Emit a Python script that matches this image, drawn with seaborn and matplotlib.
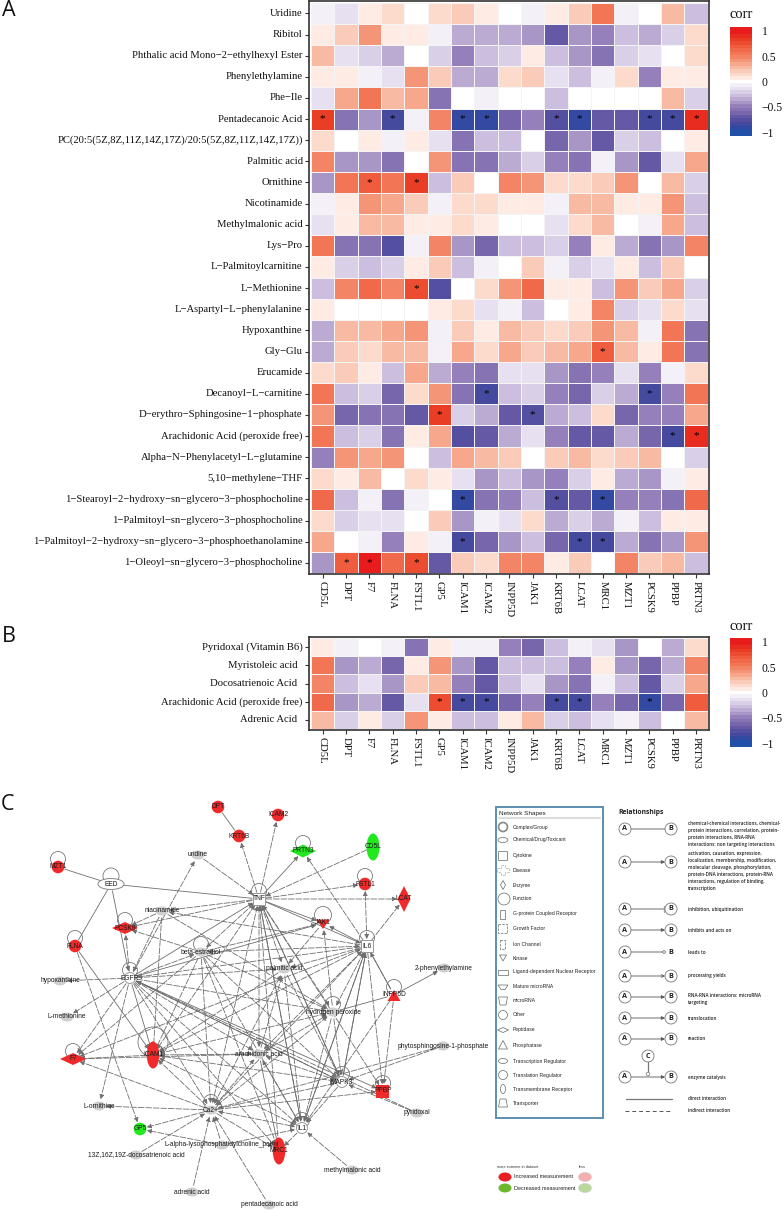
import numpy as np
import pandas as pd
import seaborn as sns
import matplotlib
matplotlib.use("Agg")
import matplotlib.pyplot as plt
from matplotlib.colors import LinearSegmentedColormap
from matplotlib.patches import Ellipse, Polygon, Rectangle, Circle, FancyArrowPatch

sns.set_theme(style="white")
plt.rcParams["font.family"] = ["Liberation Serif", "DejaVu Sans"]

# ---------------- data -----------------
genes = ["CD5L", "DPT", "F7", "FLNA", "FSTL1", "GP5", "ICAM1", "ICAM2", "INPP5D", "JAK1",
         "KRT6B", "LCAT", "MRC1", "MZT1", "PCSK9", "PPBP", "PRTN3"]
metabolites_a = ["Uridine", "Ribitol", "Phthalic acid Mono−2−ethylhexyl Ester", "Phenylethylamine", "Phe−Ile",
                 "Pentadecanoic Acid", "PC(20:5(5Z,8Z,11Z,14Z,17Z)/20:5(5Z,8Z,11Z,14Z,17Z))", "Palmitic acid",
                 "Ornithine", "Nicotinamide", "Methylmalonic acid", "Lys−Pro", "L−Palmitoylcarnitine", "L−Methionine",
                 "L−Aspartyl−L−phenylalanine", "Hypoxanthine", "Gly−Glu", "Erucamide", "Decanoyl−L−carnitine",
                 "D−erythro−Sphingosine−1−phosphate", "Arachidonic Acid (peroxide free)",
                 "Alpha−N−Phenylacetyl−L−glutamine", "5,10−methylene−THF",
                 "1−Stearoyl−2−hydroxy−sn−glycero−3−phosphocholine", "1−Palmitoyl−sn−glycero−3−phosphocholine",
                 "1−Palmitoyl−2−hydroxy−sn−glycero−3−phosphoethanolamine", "1−Oleoyl−sn−glycero−3−phosphocholine"]
corr_a = [
 [-0.04,-0.12,0.06,0.13,0,0.17,0.22,0.08,0,-0.07,0.05,0.22,0.55,-0.04,-0.02,0.3,-0.27],
 [0.06,0.2,0.38,0.05,0.06,-0.1,-0.33,-0.33,-0.37,-0.38,-0.68,-0.38,-0.47,-0.27,-0.33,-0.2,0.13],
 [0.3,-0.15,-0.2,-0.33,0.03,-0.18,-0.5,-0.25,-0.18,0.04,-0.3,-0.38,-0.55,-0.18,-0.15,-0.01,0.13],
 [0.08,0.04,-0.05,-0.15,0.38,0.2,-0.33,-0.33,0.12,0.22,-0.13,-0.3,-0.06,0.13,-0.5,0.07,0.07],
 [-0.12,0.32,0.55,0.25,0.35,-0.52,0.02,-0.1,0,-0.03,-0.25,0,0.01,-0.03,-0.03,0.25,-0.22],
 [0.85,-0.52,-0.38,-0.85,-0.07,0.45,-0.92,-0.9,-0.65,-0.48,-0.78,-0.9,-0.72,-0.68,-0.8,-0.82,0.92],
 [0.15,0.01,0.08,-0.07,0.05,-0.15,-0.58,-0.28,-0.3,-0.03,-0.6,-0.4,-0.68,-0.22,-0.3,0.03,0.06],
 [0.45,-0.4,-0.38,-0.55,0.03,0.4,-0.55,-0.58,-0.32,-0.2,-0.47,-0.52,-0.1,-0.38,-0.68,-0.15,0.33],
 [-0.38,0.55,0.7,0.55,0.8,-0.25,0.2,0.02,0.47,0.42,0.15,0.13,0.2,0.43,-0.03,0.27,-0.2],
 [-0.08,0.07,0.38,0.33,0.22,-0.07,0.16,0.12,0.08,0.1,-0.07,0.25,0.3,0.05,0.07,0.38,-0.3],
 [-0.15,0.07,0.3,0.3,0.1,0.07,0.12,0.08,0,0.01,-0.13,0.17,0.27,0.03,-0.07,0.33,-0.28],
 [0.55,-0.52,-0.58,-0.75,-0.06,0.45,-0.38,-0.62,-0.25,-0.25,-0.2,-0.45,0.05,-0.35,-0.55,-0.4,0.47],
 [0.1,-0.2,-0.3,-0.2,0.05,0.2,-0.28,-0.08,0,0.2,-0.1,-0.18,-0.12,0.04,-0.25,0.2,-0.01],
 [-0.25,0.45,0.65,0.45,0.78,-0.75,0.03,0.14,0.42,0.62,0.06,0.1,-0.25,0.38,0.2,0.35,-0.2],
 [0.05,-0.03,0.03,-0.02,0.03,0.1,0.14,-0.17,-0.1,-0.3,-0.03,0.05,0.5,-0.18,-0.15,0.12,-0.15],
 [-0.35,0.3,0.28,0.35,0.38,-0.06,0.22,0.1,0.27,0.2,0.12,0.18,0.42,0.27,-0.06,0.52,-0.52],
 [-0.35,0.22,0.15,0.28,0.28,-0.06,0.37,0.17,0.32,0.2,0.3,0.32,0.7,0.3,0.06,0.58,-0.58],
 [0.13,0.22,0.08,-0.25,0.35,-0.32,-0.5,-0.58,-0.12,-0.12,-0.42,-0.58,-0.48,-0.13,-0.5,-0.1,0.15],
 [0.55,-0.3,-0.22,-0.6,0.17,0.38,-0.58,-0.8,-0.25,-0.18,-0.45,-0.65,-0.2,-0.33,-0.8,-0.45,0.55],
 [0.38,-0.62,-0.57,-0.55,-0.72,0.8,-0.22,-0.33,-0.7,-0.78,-0.33,-0.27,0.13,-0.6,-0.5,-0.5,0.33],
 [0.55,-0.3,-0.2,-0.55,0.05,0.33,-0.73,-0.68,-0.33,-0.17,-0.5,-0.72,-0.7,-0.33,-0.6,-0.82,0.88],
 [-0.5,0.4,0.33,0.38,0,-0.3,0.37,0.27,0.18,-0.02,0.22,0.27,0.12,0.22,0.28,0.01,-0.22],
 [0.12,0.06,0.3,0,0.13,0.05,-0.12,-0.38,-0.3,-0.38,-0.45,-0.2,0.08,-0.33,-0.38,-0.04,0.04],
 [0.65,-0.3,-0.1,-0.52,-0.04,0.01,-0.88,-0.58,-0.5,-0.25,-0.78,-0.72,-0.92,-0.5,-0.5,-0.58,0.65],
 [0.17,-0.2,-0.13,-0.12,0,0.22,-0.42,-0.07,-0.12,0.15,-0.32,-0.22,-0.35,-0.07,-0.27,0.07,0.08],
 [0.35,0,-0.1,-0.48,0.1,-0.1,-0.85,-0.65,-0.38,-0.25,-0.65,-0.82,-0.85,-0.35,-0.55,-0.38,0.42],
 [-0.4,0.68,1.0,0.62,0.78,-0.7,0.2,0.15,0.45,0.5,0.1,0.22,-0.03,0.45,0.22,0.3,-0.25],
]
stars_a = {5: [0, 3, 6, 7, 10, 11, 14, 15, 16], 8: [2, 4], 13: [4], 16: [12], 18: [7, 14], 19: [5, 9],
           20: [15, 16], 23: [6, 10, 12], 25: [6, 11, 12], 26: [1, 2, 4]}

metabolites_b = ["Pyridoxal (Vitamin B6)", "Myristoleic acid  ", "Docosatrienoic Acid  ",
                 "Arachidonic Acid (peroxide free)", "Adrenic Acid  "]
corr_b = [
 [0.05,-0.08,-0.02,-0.07,-0.55,0.1,-0.04,-0.04,-0.48,-0.62,-0.27,-0.08,-0.17,-0.38,0,-0.35,0.15],
 [0.55,-0.42,-0.33,-0.65,0.06,0.38,-0.38,-0.72,-0.27,-0.25,-0.27,-0.45,0.05,-0.42,-0.6,-0.36,0.45],
 [0.47,-0.25,-0.14,-0.42,0.2,0.28,-0.5,-0.72,-0.25,-0.15,-0.42,-0.55,-0.1,-0.3,-0.72,-0.22,0.37],
 [0.6,-0.42,-0.35,-0.7,-0.17,0.75,-0.85,-0.82,-0.62,-0.45,-0.82,-0.85,-0.45,-0.6,-0.9,-0.65,0.68],
 [0.3,-0.2,0.1,-0.18,0.38,0.08,-0.3,-0.3,0.05,0.25,-0.22,-0.25,-0.14,-0.04,-0.27,-0.02,0.28],
]
stars_b = {3: [5, 6, 7, 10, 11, 14]}
cbar_ticks = [-1, -0.5, 0, 0.5, 1]

node_names = ["DPT","ICAM2","KRT6B","PRTN3","CD5L","uridine","MZT1","EED","TNF","FSTL1","LCAT","niacinamide",
              "PCSK9","JAK1","FLNA","IL6","beta-estradiol","palmitic acid","EGFR","hypoxanthine","2-phenylethylamine",
              "INPP5D","hydrogen peroxide","L-methionine","F7","ICAM1","arachidonic acid",
              "phytosphingosine-1-phosphate","MAPK3","PPBP","L-ornithine","Ca2+","pyridoxal","IL1","GP5",
              "L-alpha-lysophosphatidylcholine_palmi","MRC1","13Z,16Z,19Z-docosatrienoic acid","methylmalonic acid",
              "adrenic acid","pentadecanoic acid"]
node_x = [218,278,239,303,373,198,58,111,259,365,404,162,125,323,75,367,201,284,130,60,444,394,333,67,73,153,259,
          443,342,383,99,211,417,302,140,222,279,136,352,192,269]
node_y = [807,815,836,851,847,855,867,884,899,884,899,911,928,923,946,946,952,969,978,981,968,995,1012,1017,1059,
          1055,1054,1046,1082,1091,1106,1110,1113,1128,1129,1145,1151,1155,1170,1192,1205]
node_kind = ["rc","rc","rc","gd","ge","c","rc","w","ws","rc","rdt","c","rd","rv","rc","ws","c","c","wc","c","c",
             "ru","c","c","rd","re","c","c","wc","rs","c","c","c","wc","gc","c","re","c","c","c","c"]
self_loops = ["MZT1","EED","PRTN3","FSTL1","JAK1","PCSK9","FLNA","TNF","IL6","beta-estradiol","EGFR","INPP5D",
              "hydrogen peroxide","F7","ICAM1","MAPK3","PPBP","Ca2+","IL1","arachidonic acid"]
direct_edges = [("DPT","KRT6B",0),("MZT1","EED",0),("EED","FLNA",0),("TNF","EED",1),("EED","EGFR",1),("TNF","PRTN3",1),
                ("TNF","IL6",1),("IL6","JAK1",1),("TNF","JAK1",1),("FLNA","ICAM1",1),("EGFR","ICAM1",1),
                ("EGFR","PPBP",1),("EGFR","MAPK3",1),("INPP5D","2-phenylethylamine",1),("hydrogen peroxide","INPP5D",0),
                ("IL6","INPP5D",0),("IL6","MAPK3",0),("IL6","IL1",1),("TNF","IL1",1),("EGFR","JAK1",1),
                ("arachidonic acid","MRC1",1),("TNF","MAPK3",1),("EGFR","TNF",1)]
indirect_edges = [("TNF","ICAM2"),("TNF","KRT6B"),("CD5L","TNF"),("uridine","TNF"),("EGFR","uridine"),("TNF","FSTL1"),
 ("IL6","FSTL1"),("TNF","LCAT"),("IL6","LCAT"),("IL6","PRTN3"),("TNF","niacinamide"),("TNF","PCSK9"),("niacinamide","PCSK9"),
 ("TNF","beta-estradiol"),("TNF","palmitic acid"),("TNF","hydrogen peroxide"),("TNF","arachidonic acid"),("TNF","Ca2+"),
 ("TNF","ICAM1"),("TNF","MRC1"),("TNF","PPBP"),("IL6","niacinamide"),("IL6","beta-estradiol"),
 ("IL6","palmitic acid"),("IL6","EGFR"),("IL6","hydrogen peroxide"),("IL6","arachidonic acid"),("IL6","Ca2+"),("IL6","ICAM1"),
 ("IL6","PPBP"),("EGFR","hypoxanthine"),("EGFR","L-methionine"),("EGFR","F7"),("EGFR","L-ornithine"),("EGFR","hydrogen peroxide"),
 ("EGFR","arachidonic acid"),("EGFR","Ca2+"),("EGFR","MRC1"),("EGFR","IL1"),("EGFR","beta-estradiol"),("EGFR","palmitic acid"),
 ("EGFR","PCSK9"),("Ca2+","F7"),("Ca2+","GP5"),("Ca2+","ICAM1"),("Ca2+","arachidonic acid"),
 ("Ca2+","hydrogen peroxide"),("Ca2+","palmitic acid"),("Ca2+","MAPK3"),("Ca2+","PPBP"),("Ca2+","IL1"),
 ("Ca2+","L-ornithine"),("13Z,16Z,19Z-docosatrienoic acid","Ca2+"),("adrenic acid","Ca2+"),("pentadecanoic acid","Ca2+"),
 ("L-alpha-lysophosphatidylcholine_palmi","Ca2+"),("L-alpha-lysophosphatidylcholine_palmi","GP5"),
 ("L-alpha-lysophosphatidylcholine_palmi","IL1"),("arachidonic acid","ICAM1"),("arachidonic acid","MAPK3"),("arachidonic acid","IL1"),
 ("arachidonic acid","hydrogen peroxide"),("arachidonic acid","palmitic acid"),("arachidonic acid","F7"),
 ("beta-estradiol","ICAM1"),("beta-estradiol","Ca2+"),("beta-estradiol","IL1"),("beta-estradiol","MAPK3"),
 ("beta-estradiol","hydrogen peroxide"),("beta-estradiol","JAK1"),("beta-estradiol","MRC1"),("beta-estradiol","F7"),
 ("beta-estradiol","PCSK9"),("hydrogen peroxide","JAK1"),("hydrogen peroxide","ICAM1"),("hydrogen peroxide","MAPK3"),
 ("hydrogen peroxide","IL1"),("phytosphingosine-1-phosphate","MAPK3"),("pyridoxal","MAPK3"),("MAPK3","IL1"),
 ("methylmalonic acid","IL1"),("FLNA","GP5"),("niacinamide","ICAM1"),("niacinamide","EGFR"),("niacinamide","hydrogen peroxide"),
 ("ICAM1","F7"),("INPP5D","IL1"),("INPP5D","IL6"),("INPP5D","PPBP"),("palmitic acid","ICAM1"),("palmitic acid","MAPK3"),
 ("IL6","F7"),("JAK1","palmitic acid"),("MAPK3","ICAM1"),("FSTL1","IL6"),("ICAM1","MAPK3"),("ICAM1","IL1"),
 ("ICAM1","IL6"),("ICAM1","TNF"),("ICAM1","hydrogen peroxide"),("ICAM1","arachidonic acid"),
 ("Ca2+","TNF"),("arachidonic acid","TNF"),("arachidonic acid","IL6"),("MAPK3","TNF"),("MAPK3","IL6"),("MAPK3","EGFR"),
 ("MAPK3","arachidonic acid"),("IL1","TNF"),("IL1","IL6"),("IL1","Ca2+"),("IL1","arachidonic acid"),("IL1","ICAM1"),("IL1","MRC1"),
 ("hydrogen peroxide","Ca2+"),("hydrogen peroxide","arachidonic acid"),("hydrogen peroxide","TNF"),("hydrogen peroxide","IL6"),
 ("palmitic acid","Ca2+"),("palmitic acid","IL1"),("Ca2+","MRC1"),("phytosphingosine-1-phosphate","Ca2+"),("pyridoxal","EGFR"),
 ("beta-estradiol","TNF"),("beta-estradiol","IL6")]

shape_names = ["Complex/Group","Chemical/Drug/Toxicant","Cytokine","Disease","Enzyme","Function","G-protein Coupled Receptor",
               "Growth Factor","Ion Channel","Kinase","Ligand-dependent Nuclear Receptor","Mature microRNA","microRNA","Other",
               "Peptidase","Phosphatase","Transcription Regulator","Translation Regulator","Transmembrane Receptor","Transporter"]
rel_texts = ["chemical-chemical interactions, chemical-\nprotein interactions, correlation, protein-\nprotein interactions, RNA-RNA\ninteractions: non targeting interactions",
             "activation, causation, expression,\nlocalization, membership, modification,\nmolecular cleavage, phosphorylation,\nprotein-DNA interactions, protein-RNA\ninteractions, regulation of binding,\ntranscription",
             "inhibition, ubiquitination","inhibits and acts on","leads to","processing yields",
             "RNA-RNA interactions: microRNA\ntargeting","translocation","reaction","enzyme catalysis"]

# ---------------- figure helpers -----------------
W, H = 784, 1211
fig = plt.figure(figsize=(W/100, H/100), dpi=100, facecolor="white")
def px_axes(x0, y0, x1, y1):
    return fig.add_axes([x0/W, 1-y1/H, (x1-x0)/W, (y1-y0)/H])

pos = [-1.07,-1,-0.9,-0.75,-0.65,-0.5,-0.4,-0.3,-0.1,0,0.05,0.15,0.25,0.35,0.45,0.55,0.7,0.85,1,1.07]
cols = ["#2050a8","#2050a8","#3c479e","#5c52a3","#7565ab","#9580bb","#b09fcc","#c9bbdd","#efeaf5","#ffffff",
        "#fff0ea","#fcd9cb","#fac3b0","#f6a98e","#f58f72","#f2785a","#ef6040","#ea3e25","#e81c1c","#e81c1c"]
cmap = LinearSegmentedColormap.from_list("corr", [((p+1.07)/2.14, c) for p, c in zip(pos, cols)], N=31)

def heat(values, rows, stars, box, cbox, ylim, title_y):
    ax = px_axes(*box)
    cax = px_axes(*cbox)
    df = pd.DataFrame(values, index=rows, columns=genes)
    ann = df.copy().astype(object)
    ann.loc[:, :] = ""
    for r, cs in stars.items():
        for c in cs:
            ann.iloc[r, c] = "*"
    sns.heatmap(df, ax=ax, cbar_ax=cax, cmap=cmap, vmin=-1.07, vmax=1.07, linewidths=0.6, linecolor="#f4f4f4",
                annot=ann, fmt="", annot_kws={"fontsize": 8, "color": "black"}, square=False,
                cbar_kws={"ticks": cbar_ticks, "drawedges": False})
    ax.set_xlim(-0.07, 17.07)
    ax.set_ylim(*ylim)
    for s in ax.spines.values():
        s.set_visible(True); s.set_color("#333333"); s.set_linewidth(1.2)
    ax.tick_params(axis="both", length=2.8, width=0.8, color="#333333", bottom=True, left=True, pad=2)
    ax.set_xticklabels(genes, rotation=270, fontsize=7.7, color="#111111", va="top", ha="center")
    ax.set_yticklabels(rows, rotation=0, fontsize=7.65, color="#111111")
    ax.set_xlabel(""); ax.set_ylabel("")
    cax.tick_params(axis="y", direction="in", length=4, width=0.7, color="white", left=True, right=True,
                    labelsize=8.4, pad=7, labelcolor="#111111")
    cax.set_yticks(cbar_ticks, ["−1", "−0.5", "0", "0.5", "1"])
    for s in cax.spines.values():
        s.set_visible(False)
    fig.text(730/W, 1-title_y/H, "corr", fontsize=10.5, va="center", ha="left", color="#111111")
    return ax

heat(corr_a, metabolites_a, stars_a, (309.3, 1.2, 709.3, 574.2), (730, 27, 752, 136), (27.04, -0.08), 15)
heat(corr_b, metabolites_b, stars_b, (309.3, 637, 709.3, 730), (730, 638, 752, 747), (5.06, -0.06), 627)

for letter, x, y in [("A", 2, 11), ("B", 2, 637), ("C", 1, 805)]:
    fig.text(x/W, 1-y/H, letter, fontsize=15.5, va="center", ha="left", family="Open Sans", color="#111111")

# ---------------- panel C overlay (pixel scale) -----------------
net = fig.add_axes([0, 0, 1, 1], facecolor="none")
net.set_xlim(0, W); net.set_ylim(H, 0); net.axis("off")
xy = {n: (x, y) for n, x, y in zip(node_names, node_x, node_y)}
kind = dict(zip(node_names, node_kind))
EDGE = "#6e6e6e"
RED, GREEN, GREY = "#f02a2a", "#22e81e", "#cfcfcf"

def edge(a, b, dashed, style="-|>"):
    p = FancyArrowPatch(xy[a], xy[b], arrowstyle=style, mutation_scale=6.5, shrinkA=5, shrinkB=5,
                        lw=0.6, color=EDGE, linestyle=(0, (7, 2)) if dashed else "-", zorder=2)
    net.add_patch(p)
for a, b, arrow in direct_edges:
    edge(a, b, False, "-|>" if arrow else "-")
# a pair of opposite arrows is one line with two heads
pairs = set(indirect_edges)
done = set()
for a, b in indirect_edges:
    if (a, b) in done:
        continue
    both = (b, a) in pairs
    edge(a, b, True, "<|-|>" if both else "-|>")
    done.update({(a, b), (b, a)})

loop_r = {"ICAM1": 15, "JAK1": 8.5, "MZT1": 7.5, "EED": 8}
for n in self_loops:
    x, y = xy[n]
    r = loop_r.get(n, 7.5)
    off = {"ICAM1": -13}.get(n, -8)
    net.add_patch(Circle((x, y+off), r, fc="none", ec="#777777", lw=0.6, zorder=2))

def node(n):
    x, y = xy[n]; k = kind[n]
    z = 3
    if k == "rc":
        net.add_patch(Circle((x, y), 6.3, fc=RED, ec="none", zorder=z))
    elif k == "gc":
        net.add_patch(Circle((x, y), 6.3, fc=GREEN, ec="none", zorder=z))
    elif k == "ge":
        net.add_patch(Ellipse((x, y), 13, 27, fc=GREEN, ec="none", zorder=z))
    elif k == "re":
        net.add_patch(Ellipse((x, y), 12.5, 27, fc=RED, ec="none", zorder=z))
    elif k == "gd":
        net.add_patch(Polygon([(x-13, y), (x, y-6.5), (x+13, y), (x, y+6.5)], fc=GREEN, ec="none", zorder=z))
    elif k == "rd":
        net.add_patch(Polygon([(x-13, y), (x, y-6), (x+13, y), (x, y+6)], fc=RED, ec="none", zorder=z))
    elif k == "rdt":
        net.add_patch(Polygon([(x-6.5, y), (x, y-13), (x+6.5, y), (x, y+13)], fc=RED, ec="none", zorder=z))
    elif k == "rv":
        net.add_patch(Polygon([(x-6.5, y-3.5), (x+6.5, y-3.5), (x, y+6)], fc=RED, ec="none", zorder=z))
    elif k == "ru":
        net.add_patch(Polygon([(x-6.5, y+6), (x+6.5, y+6), (x, y-5)], fc=RED, ec="none", zorder=z))
    elif k == "rs":
        net.add_patch(Rectangle((x-6.5, y-6.5), 13, 13, fc=RED, ec="none", zorder=z))
    elif k == "ws":
        net.add_patch(Rectangle((x-6, y-6), 12, 12, fc="white", ec="#999999", lw=0.7, zorder=z))
    elif k == "w":
        net.add_patch(Ellipse((x, y), 26, 11, fc="white", ec="#888888", lw=0.7, zorder=z))
    elif k == "wc":
        net.add_patch(Circle((x, y), 5.5, fc="white", ec="#999999", lw=0.7, zorder=z))
    else:
        net.add_patch(Ellipse((x, y), 13, 9, fc=GREY, ec="none", zorder=z))
    net.text(x, y, n, fontsize=4.8, family="Liberation Sans", ha="center", va="center", color="#1a1a1a", zorder=4)
for n in node_names:
    node(n)

# network-shapes legend
SFONT = dict(family="Liberation Sans", va="center", ha="left", color="#222222")
net.add_patch(Rectangle((496, 807), 107, 311, fc="white", ec="#5b8fb0", lw=1.4, zorder=5))
net.text(499, 813.5, "Network Shapes", fontsize=4.6, zorder=6, **SFONT)
net.plot([499, 600], [818, 818], color="#dddddd", lw=1.5, zorder=6)
shape_y = [827,840,855,870,885,899,914,928,944,958,972,987,1001,1015,1030,1045,1061,1075,1089,1103]
ix = 503
ec = dict(fc="white", ec="#666666", lw=0.5, zorder=6)
icons = [Circle((ix, shape_y[0]), 4.5, fc="white", ec="#888888", lw=1.2, zorder=6),
         Ellipse((ix, shape_y[1]), 10, 5, **ec),
         Rectangle((ix-4.5, shape_y[2]-4.5), 9, 9, **ec),
         Polygon([(ix-2,shape_y[3]-5),(ix+2,shape_y[3]-5),(ix+2,shape_y[3]-2),(ix+6,shape_y[3]-2),(ix+6,shape_y[3]+2),(ix+2,shape_y[3]+2),(ix+2,shape_y[3]+5),(ix-2,shape_y[3]+5),(ix-2,shape_y[3]+2),(ix-6,shape_y[3]+2),(ix-6,shape_y[3]-2),(ix-2,shape_y[3]-2)], fc="white", ec="#aaaaaa", lw=0.5, ls="--", zorder=6),
         Polygon([(ix-2.5,shape_y[4]),(ix,shape_y[4]-4.5),(ix+2.5,shape_y[4]),(ix,shape_y[4]+4.5)], **ec),
         Circle((ix+1, shape_y[5]), 6, **ec),
         Rectangle((ix-2.5, shape_y[6]-4.5), 5, 9, **ec),
         Rectangle((ix-4.5, shape_y[7]-4.5), 9, 9, fc="white", ec="#666666", lw=0.5, ls="--", zorder=6),
         Rectangle((ix-2.5, shape_y[8]-4.5), 5, 9, fc="white", ec="#666666", lw=0.5, ls="--", zorder=6),
         Polygon([(ix-3.5,shape_y[9]-3),(ix+3.5,shape_y[9]-3),(ix,shape_y[9]+3)], **ec),
         Rectangle((ix-5, shape_y[10]-2.5), 10, 5, **ec),
         Polygon([(ix-5,shape_y[11]-2),(ix+5,shape_y[11]-2),(ix+2,shape_y[11]+2.5),(ix-2,shape_y[11]+2.5)], **ec),
         Polygon([(ix-4.5,shape_y[12]-4),(ix+4.5,shape_y[12]-4),(ix+3,shape_y[12]+4),(ix-3,shape_y[12]+4)], **ec),
         Circle((ix, shape_y[13]), 4.5, **ec),
         Polygon([(ix-5.5,shape_y[14]),(ix,shape_y[14]-2.5),(ix+5.5,shape_y[14]),(ix,shape_y[14]+2.5)], **ec),
         Polygon([(ix-4.5,shape_y[15]+4),(ix+4.5,shape_y[15]+4),(ix,shape_y[15]-4.5)], **ec),
         Ellipse((ix, shape_y[16]), 9, 5, **ec),
         Circle((ix, shape_y[17]), 4.5, **ec),
         Ellipse((ix, shape_y[18]), 5, 9, **ec),
         Polygon([(ix-4.5,shape_y[19]+4),(ix+4.5,shape_y[19]+4),(ix+3,shape_y[19]-4),(ix-3,shape_y[19]-4)], **ec)]
for ic in icons:
    net.add_patch(ic)
for nm, y in zip(shape_names, shape_y):
    net.text(513, y, nm, fontsize=3.62, zorder=6, **SFONT)

# relationships legend
RFONT = dict(family="Open Sans", va="center", ha="left", color="#222222")
net.text(618, 812, "Relationships", fontsize=4.9, fontweight="bold", **RFONT)
rel_y = [829, 862, 909, 930, 952, 976, 997, 1018, 1039, 1077]
rel_style = ["-", "-|>", "-|", "-|>", "-o", "->", "-|>", "-|>", "-|>", "-|>"]
for i, (y, st, txt) in enumerate(zip(rel_y, rel_style, rel_texts)):
    for lab, x in (("A", 625), ("B", 671)):
        if not (i == 4 and lab == "B"):
            net.add_patch(Circle((x, y), 6, fc="white", ec="#777777", lw=0.6, zorder=3))
        net.text(x, y, lab, fontsize=5.2, fontweight="bold", family="Open Sans", ha="center", va="center", color="#222222", zorder=4)
    sty = {"-": "-", "-|>": "-|>", "->": "->", "-|": "-", "-o": "-"}[st]
    net.add_patch(FancyArrowPatch((631, y), (665, y), arrowstyle=sty, mutation_scale=5, shrinkA=0, shrinkB=0, lw=0.6, color="#555555", zorder=2))
    if st == "-|":
        net.plot([664, 664], [y-3, y+3], color="#aaaaaa", lw=1)
    if st == "-o":
        net.add_patch(Circle((664, y), 1.3, fc="white", ec="#555555", lw=0.5, zorder=3))
    lines = txt.count("\n")
    top = {0: y, 1: y+2, 3: y+5, 5: y+9}.get(lines, y)
    net.text(688, top, txt, fontsize=3.3, linespacing=1.52, fontweight="semibold", **RFONT)
net.add_patch(Circle((648, 1056), 6, fc="white", ec="#777777", lw=0.6, zorder=3))
net.text(648, 1056, "C", fontsize=5.2, fontweight="bold", family="Open Sans", ha="center", va="center", color="#222222", zorder=4)
net.plot([648, 648], [1062, 1075], color="#777777", lw=0.9)
net.add_patch(Circle((648, 1074), 1.8, fc="white", ec="#777777", lw=0.5, zorder=3))
net.plot([626, 672], [1099, 1099], color="#777777", lw=0.9)
net.plot([625, 672], [1111, 1111], color="#555555", lw=0.7, ls=(0, (4, 3)))
net.text(688, 1099, "direct interaction", fontsize=3.3, fontweight="semibold", **RFONT)
net.text(688, 1111, "indirect interaction", fontsize=3.3, fontweight="semibold", **RFONT)

# measurement legend
net.text(497, 1167, "more extreme in dataset", fontsize=2.8, family="Liberation Sans", va="center", color="#333333")
net.text(579, 1167, "less", fontsize=2.8, family="Liberation Sans", va="center", color="#333333")
for y, strong, weak, label in [(1177, "#ea1c24", "#f4aeb0", "Increased measurement"),
                               (1188, "#6cb82c", "#b8d99a", "Decreased measurement")]:
    net.add_patch(Ellipse((505, y), 13, 9, fc=strong, ec="none"))
    net.add_patch(Ellipse((585, y), 13, 9, fc=weak, ec="#cccccc", lw=0.4))
    net.text(514, y, label, fontsize=4, family="Liberation Sans", va="center", color="#222222")

fig.savefig("out.png", dpi=100, facecolor="white")
